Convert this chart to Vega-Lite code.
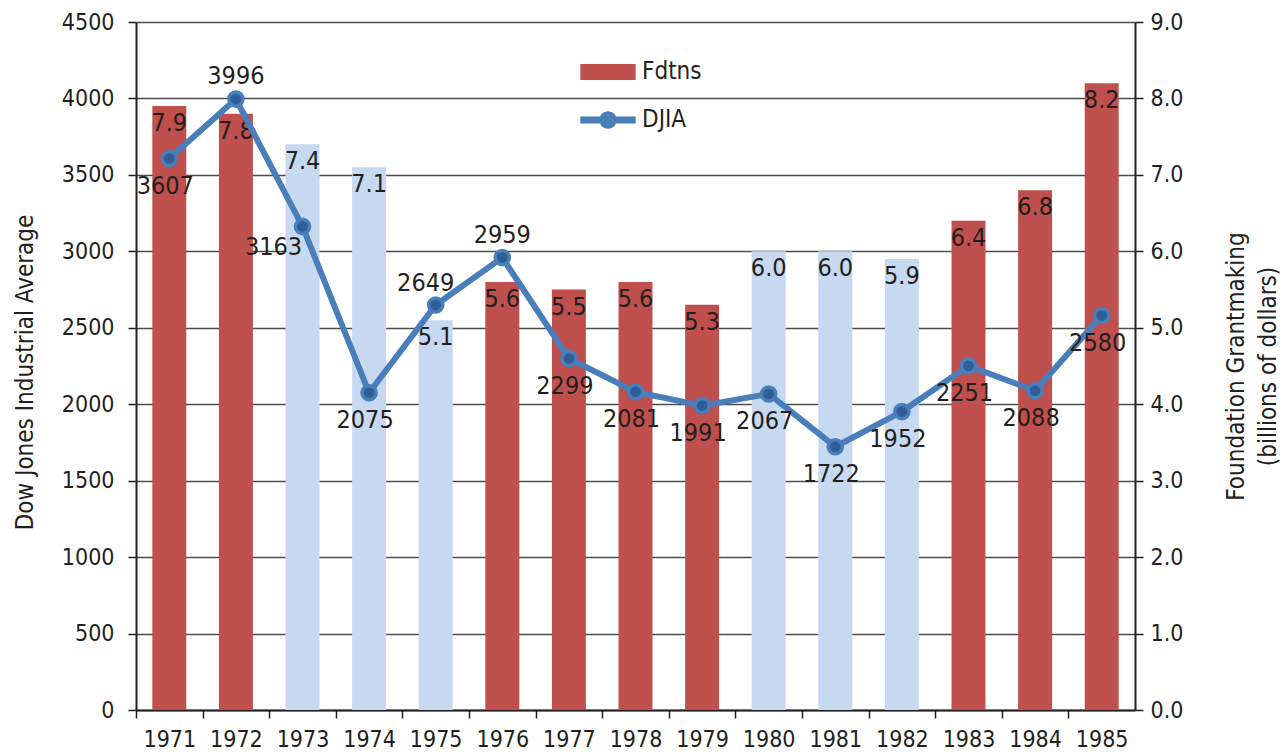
{
  "$schema": "https://vega.github.io/schema/vega-lite/v6.json",
  "width": 999,
  "height": 688,
  "autosize": {"type": "none"},
  "padding": {"left": 136, "top": 22, "right": 153, "bottom": 42},
  "background": "white",
  "config": {
    "font": "\"DejaVu Sans Condensed\", sans-serif",
    "view": {"stroke": null},
    "axis": {
      "domainColor": "#231F20",
      "domainWidth": 2,
      "tickColor": "#231F20",
      "tickWidth": 1.5,
      "tickSize": 8,
      "labelColor": "#231F20",
      "labelFontSize": 23,
      "titleColor": "#231F20",
      "titleFontSize": 24,
      "titleFontWeight": "normal"
    }
  },
  "data": {
    "values": [
      {"year": "1971", "fdtns": 7.9, "djia": 3607, "rec": false},
      {"year": "1972", "fdtns": 7.8, "djia": 3996, "rec": false},
      {"year": "1973", "fdtns": 7.4, "djia": 3163, "rec": true},
      {"year": "1974", "fdtns": 7.1, "djia": 2075, "rec": true},
      {"year": "1975", "fdtns": 5.1, "djia": 2649, "rec": true},
      {"year": "1976", "fdtns": 5.6, "djia": 2959, "rec": false},
      {"year": "1977", "fdtns": 5.5, "djia": 2299, "rec": false},
      {"year": "1978", "fdtns": 5.6, "djia": 2081, "rec": false},
      {"year": "1979", "fdtns": 5.3, "djia": 1991, "rec": false},
      {"year": "1980", "fdtns": 6.0, "djia": 2067, "rec": true},
      {"year": "1981", "fdtns": 6.0, "djia": 1722, "rec": true},
      {"year": "1982", "fdtns": 5.9, "djia": 1952, "rec": true},
      {"year": "1983", "fdtns": 6.4, "djia": 2251, "rec": false},
      {"year": "1984", "fdtns": 6.8, "djia": 2088, "rec": false},
      {"year": "1985", "fdtns": 8.2, "djia": 2580, "rec": false}
    ]
  },
  "encoding": {
    "x": {
      "field": "year",
      "type": "nominal",
      "sort": "ascending",
      "scale": {"paddingInner": 0.49, "paddingOuter": 0.245},
      "axis": {
        "title": null,
        "labelAngle": 0,
        "labelFontSize": 23,
        "labelPadding": 10,
        "tickOffset": -33.3,
        "labelOffset": 33.3,
        "grid": false
      }
    }
  },
  "layer": [
    {
      "encoding": {
        "y": {
          "field": "fdtns",
          "type": "quantitative",
          "scale": {"domain": [0, 9], "nice": false},
          "axis": {
            "orient": "right",
            "values": [0, 1, 2, 3, 4, 5, 6, 7, 8, 9],
            "format": ".1f",
            "grid": false,
            "labelPadding": 7,
            "title": ["Foundation Grantmaking", "(billions of dollars)"],
            "titleAngle": 270,
            "titleX": 101,
            "titleY": 344,
            "titleAlign": "center",
            "titleBaseline": "middle",
            "titleLineHeight": 32
          }
        }
      },
      "layer": [
        {
          "transform": [{"filter": "!datum.rec"}],
          "mark": {"type": "bar"},
          "encoding": {
            "color": {
              "datum": "Fdtns",
              "type": "nominal",
              "scale": {"domain": ["Fdtns", "DJIA"], "range": ["#C0504D", "#4A7EBB"]},
              "legend": {
                "title": null,
                "orient": "none",
                "legendX": 444,
                "legendY": 22,
                "symbolSize": 2900,
                "labelFontSize": 24,
                "labelColor": "#231F20",
                "labelOffset": 6,
                "rowPadding": 8,
                "encode": {
                  "symbols": {
                    "update": {
                      "shape": {"signal": "datum.value === 'Fdtns' ? 'M-1,-0.27H1V0.27H-1Z' : 'M-1,-0.1H1V0.1H-1Z M-0.3,0A0.3,0.3 0 1,1 0.3,0A0.3,0.3 0 1,1 -0.3,0Z'"},
                      "fill": {"scale": "color", "field": "value"},
                      "stroke": {"value": "transparent"},
                      "size": {"value": 2900},
                      "opacity": {"value": 1},
                      "fillOpacity": {"value": 1}
                    }
                  }
                }
              }
            }
          }
        },
        {
          "transform": [{"filter": "datum.rec"}],
          "mark": {"type": "bar", "color": "#C6D9F0"},
          "encoding": {}
        },
        {
          "mark": {"type": "text", "baseline": "middle", "dy": 17, "fontSize": 25, "color": "#231F20"},
          "encoding": {"text": {"field": "fdtns", "type": "quantitative", "format": ".1f"}}
        }
      ]
    },
    {
      "encoding": {
        "y": {
          "field": "djia",
          "type": "quantitative",
          "scale": {"domain": [0, 4500], "nice": false},
          "axis": {
            "orient": "left",
            "values": [0, 500, 1000, 1500, 2000, 2500, 3000, 3500, 4000, 4500],
            "format": "d",
            "grid": true,
            "gridColor": "#4d4d4d",
            "gridWidth": 1.3,
            "labelPadding": 14,
            "title": "Dow Jones Industrial Average",
            "titleX": -111,
            "titleY": 350,
            "titleAngle": 270,
            "titleAlign": "center",
            "titleBaseline": "middle"
          }
        }
      },
      "layer": [
        {
          "mark": {"type": "line", "strokeWidth": 6},
          "encoding": {"color": {"datum": "DJIA", "type": "nominal"}}
        },
        {
          "mark": {"type": "point", "filled": true, "size": 200, "fill": "#2F5F98", "stroke": "#4A7EBB", "strokeWidth": 3.5, "opacity": 1},
          "encoding": {}
        },
        {
          "transform": [{"filter": {"not": {"field": "year", "oneOf": ["1972", "1973", "1975", "1976"]}}}],
          "mark": {"type": "text", "baseline": "middle", "dy": 27, "dx": -4, "fontSize": 25, "color": "#231F20"},
          "encoding": {"text": {"field": "djia", "type": "quantitative", "format": "d"}}
        },
        {
          "transform": [{"filter": {"field": "year", "oneOf": ["1972", "1976"]}}],
          "mark": {"type": "text", "baseline": "middle", "dy": -23, "fontSize": 25, "color": "#231F20"},
          "encoding": {"text": {"field": "djia", "type": "quantitative", "format": "d"}}
        },
        {
          "transform": [{"filter": {"field": "year", "oneOf": ["1975"]}}],
          "mark": {"type": "text", "baseline": "middle", "dy": -22, "dx": -10, "fontSize": 25, "color": "#231F20"},
          "encoding": {"text": {"field": "djia", "type": "quantitative", "format": "d"}}
        },
        {
          "transform": [{"filter": {"field": "year", "oneOf": ["1973"]}}],
          "mark": {"type": "text", "baseline": "middle", "dy": 21, "dx": -29, "fontSize": 25, "color": "#231F20"},
          "encoding": {"text": {"field": "djia", "type": "quantitative", "format": "d"}}
        }
      ]
    }
  ],
  "resolve": {"scale": {"y": "independent"}}
}
